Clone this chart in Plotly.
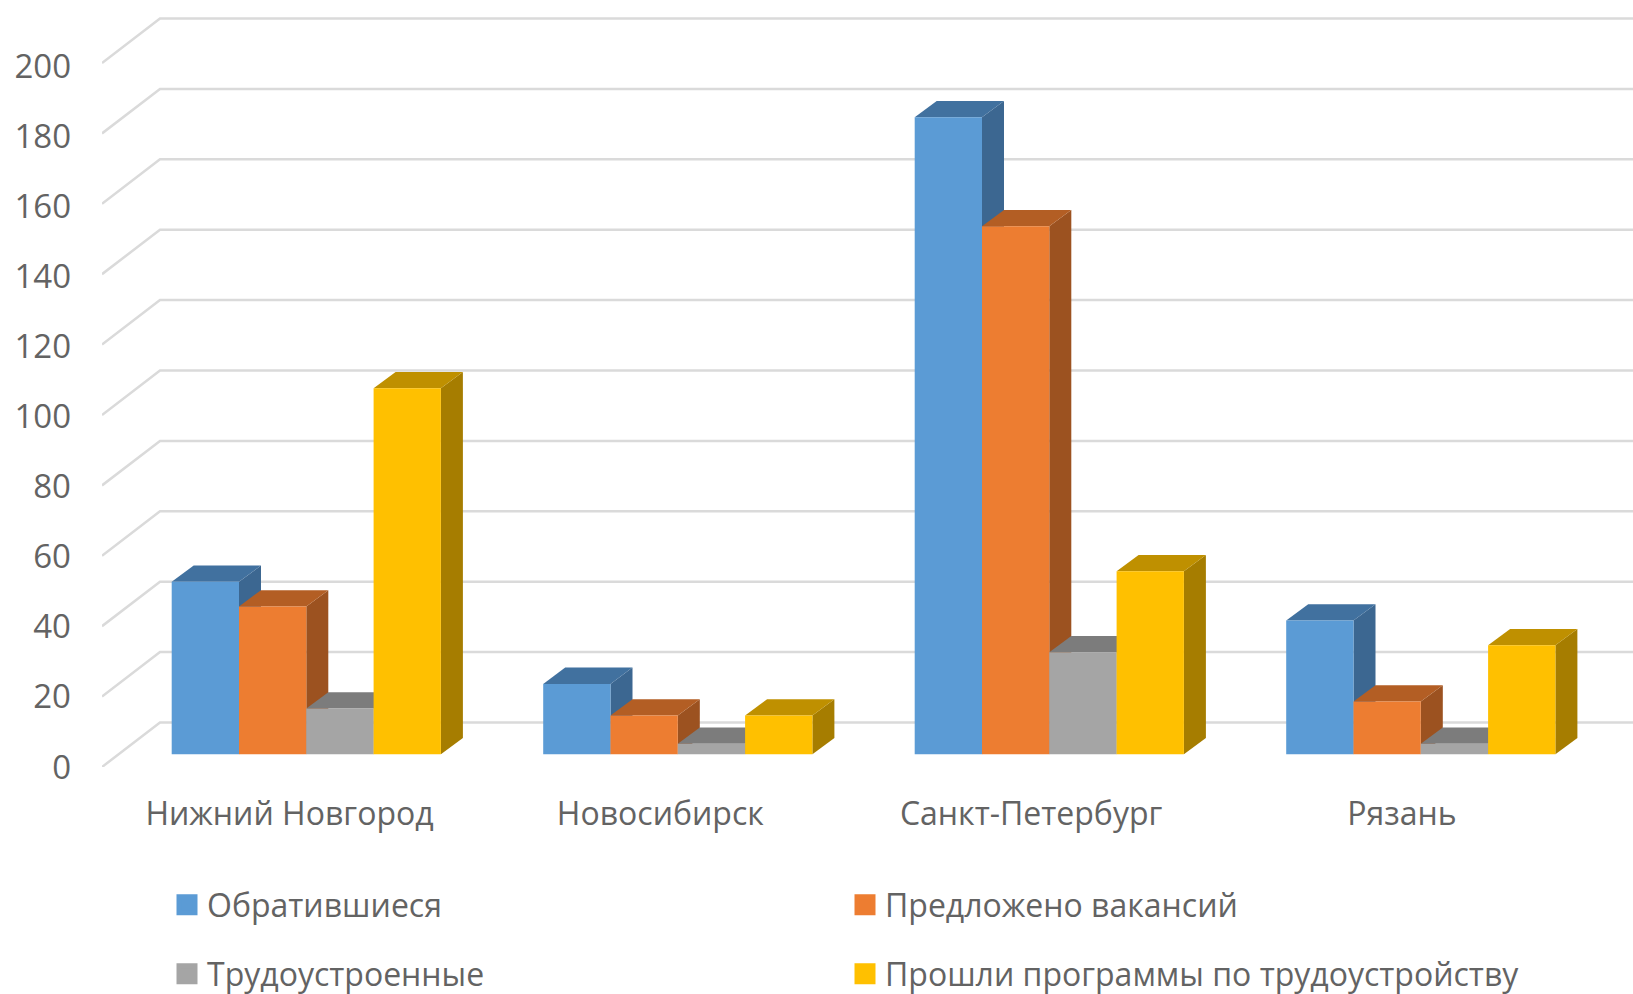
import plotly.graph_objects as go

categories = ["Нижний Новгород", "Новосибирск", "Санкт-Петербург", "Рязань"]
series_names = ["Обратившиеся", "Предложено вакансий", "Трудоустроенные", "Прошли программы по трудоустройству"]
obrat = [49, 20, 181, 38]
vakans = [42, 11, 150, 15]
trud = [13, 3, 29, 3]
prog = [104, 11, 52, 31]
series_values = [obrat, vakans, trud, prog]
y_ticks = [0, 20, 40, 60, 80, 100, 120, 140, 160, 180, 200]

front = ["#5B9BD5", "#ED7D31", "#A5A5A5", "#FFC000"]
side = ["#3C6791", "#9C5220", "#7C7C7C", "#A67D00"]
top = ["#41719F", "#B35E24", "#7C7C7C", "#BF9000"]
TXT = "#636363"
FONT = "Open Sans"

W, H = 1633, 994
ML, MB, MT = 102, 227, 5
PLOT_W, PLOT_H = W - ML, H - MB - MT

# front edge: carries the tick labels
PX_X, PX_TICK = 370.8, 3.505
x_lo = -(289.5 - ML) / PX_X
x_hi = x_lo + PLOT_W / PX_X
y_hi = PLOT_H / PX_TICK

# bar plane: sits a little behind the front edge of the floor
PX_B, PX_Y = 371.5, 3.52
bar_x = [-(306.3 - ML) / PX_B, -(306.3 - ML) / PX_B + PLOT_W / PX_B]
SY = 12.7 / PX_Y
bar_y = [-SY, -SY + PLOT_H / PX_Y]
BAR_W = 67.3 / PX_B
DX, DY = 22 / PX_B, 16.3 / PX_Y
WX, WY = 58 / PX_B, 44.5 / PX_Y

fig = go.Figure()

# carries the visible axes
fig.add_trace(go.Scatter(x=[None], y=[None], mode="lines", showlegend=False, hoverinfo="skip"))

# floor and wall lines
gx, gy = [], []
for v in y_ticks:
    gx += [bar_x[0], bar_x[0] + WX, bar_x[1], None]
    gy += [v - SY, v - SY + WY, v - SY + WY, None]
fig.add_trace(go.Scatter(x=gx, y=gy, mode="lines", line=dict(color="#DADADA", width=2.5),
                         showlegend=False, hoverinfo="skip", xaxis="x2", yaxis="y2"))

# side and top faces, left to right
for k in range(len(categories)):
    for j, vals in enumerate(series_values):
        l = k + (j - 2) * BAR_W
        r = l + BAR_W
        v = vals[k]
        fig.add_trace(go.Scatter(x=[r, r + DX, r + DX, r, r], y=[0, DY, v + DY, v, 0],
                                 mode="lines", fill="toself", fillcolor=side[j], line=dict(width=0, color=side[j]),
                                 showlegend=False, hoverinfo="skip", xaxis="x2", yaxis="y2"))
        fig.add_trace(go.Scatter(x=[l, r, r + DX, l + DX, l], y=[v, v, v + DY, v + DY, v],
                                 mode="lines", fill="toself", fillcolor=top[j], line=dict(width=0, color=top[j]),
                                 showlegend=False, hoverinfo="skip", xaxis="x2", yaxis="y2"))

# front faces
for j, vals in enumerate(series_values):
    fig.add_trace(go.Bar(x=list(range(len(categories))), y=vals, name=series_names[j],
                         marker=dict(color=front[j], line=dict(width=0)),
                         showlegend=False, xaxis="x3", yaxis="y3"))

# legend entries, each positioned on its own
leg_pos = [(167, 905), (845, 905), (167, 974), (845, 974)]
legends = {}
for j, name in enumerate(series_names):
    key = "legend" if j == 0 else f"legend{j + 1}"
    fig.add_trace(go.Scatter(x=[None], y=[None], mode="markers", name=name, legend=key,
                             marker=dict(symbol="square", size=16, color=front[j],
                                         line=dict(width=5, color=front[j]))))
    legends[key] = dict(x=leg_pos[j][0] / W, y=1 - leg_pos[j][1] / H, xref="container", yref="container",
                        xanchor="left", yanchor="middle", bgcolor="rgba(0,0,0,0)",
                        font=dict(family=FONT, size=32, color=TXT))

hidden = dict(visible=False, fixedrange=True)
fig.update_layout(
    width=W, height=H, margin=dict(l=ML, r=0, t=MT, b=MB, pad=0, autoexpand=False),
    paper_bgcolor="white", plot_bgcolor="white", barmode="group", bargap=1 - 4 * BAR_W, bargroupgap=0,
    font=dict(family=FONT, color=TXT, size=30),
    xaxis=dict(range=[x_lo, x_hi], tickmode="array", tickvals=list(range(len(categories))), ticktext=categories,
               showgrid=False, zeroline=False, showline=False, ticks="", ticklabelstandoff=25, tickangle=0,
               automargin=False,
               tickfont=dict(family=FONT, size=32, color=TXT), fixedrange=True),
    yaxis=dict(range=[0, y_hi], tickmode="array", tickvals=y_ticks, showgrid=False, zeroline=False, showline=False,
               automargin=False,
               ticks="", ticklabelstandoff=30, tickfont=dict(family=FONT, size=33, color=TXT), fixedrange=True),
    xaxis2=dict(range=bar_x, overlaying="x", anchor="y2", **hidden),
    yaxis2=dict(range=bar_y, overlaying="y", anchor="x2", **hidden),
    xaxis3=dict(range=bar_x, overlaying="x", anchor="y3", **hidden),
    yaxis3=dict(range=bar_y, overlaying="y", anchor="x3", **hidden),
    **legends,
)

fig.write_html("out.html", config={"displayModeBar": False},
               post_script="document.body.style.margin='0';document.documentElement.style.overflow='hidden';")
